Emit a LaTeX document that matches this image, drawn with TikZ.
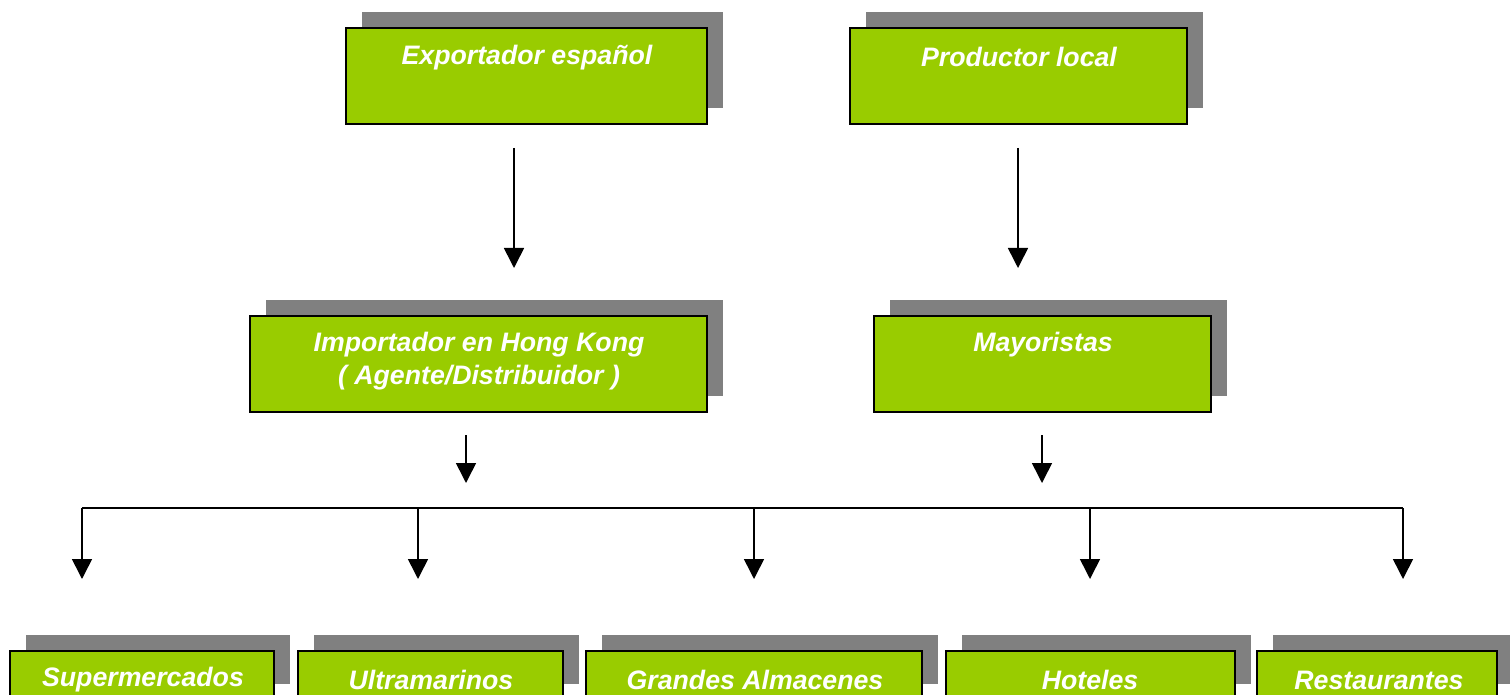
\documentclass[tikz,border=0pt]{standalone}
\usepackage{fontspec}
\setmainfont{Liberation Sans}
\usetikzlibrary{arrows.meta,shadows}
\definecolor{boxgreen}{HTML}{99CC00}
\definecolor{shadowgray}{HTML}{808080}
\tikzset{
  box/.style={draw=black, line width=1.5pt, fill=boxgreen, inner sep=0pt,
    general shadow={shadow xshift=16pt, shadow yshift=16pt, fill=shadowgray, opacity=1}},
  lbl/.style={text=white, font=\fontsize{26.7}{33}\selectfont\bfseries\itshape, align=center, inner sep=0pt},
  arr/.style={line width=1.6pt, -{Triangle[length=20pt,width=20pt]}},
  conn/.style={line width=1.6pt}
}
\begin{document}
\begin{tikzpicture}[x=1pt,y=-1pt]
\useasboundingbox (0,0) rectangle (1510,695);
\clip (0,0) rectangle (1510,695);
% top row
\node[box, minimum width=361pt, minimum height=96pt] (b1) at (526.5,76) {};
\node[lbl] (t1) at (527,58) {Exportador español};
\node[box, minimum width=337pt, minimum height=96pt] (b2) at (1018.5,76) {};
\node[lbl] (t2) at (1019,57) {Productor local};
% middle row
\node[box, minimum width=457pt, minimum height=96pt] (b3) at (478.5,364) {};
\node[lbl] (t3) at (479,361) {Importador en Hong Kong\\( Agente/Distribuidor )};
\node[box, minimum width=337pt, minimum height=96pt] (b4) at (1042.5,364) {};
\node[lbl] (t4) at (1043,345) {Mayoristas};
% bottom row
\node[box, minimum width=264pt, minimum height=49pt] (c1) at (142,675.5) {};
\node[lbl] (u1) at (143,680) {Supermercados};
\node[box, minimum width=265pt, minimum height=49pt] (c2) at (430.5,675.5) {};
\node[lbl] (u2) at (431,680) {Ultramarinos};
\node[box, minimum width=336pt, minimum height=49pt] (c3) at (754,675.5) {};
\node[lbl] (u3) at (755,680) {Grandes Almacenes};
\node[box, minimum width=289pt, minimum height=49pt] (c4) at (1090.5,675.5) {};
\node[lbl] (u4) at (1090,680) {Hoteles};
\node[box, minimum width=240pt, minimum height=49pt] (c5) at (1377,675.5) {};
\node[lbl] (u5) at (1379,680) {Restaurantes};
% arrow coordinates
\coordinate (a1s) at (514,148); \coordinate (a1e) at (514,268);
\coordinate (a2s) at (1018,148); \coordinate (a2e) at (1018,268);
\coordinate (a3s) at (466,435); \coordinate (a3e) at (466,483);
\coordinate (a4s) at (1042,435); \coordinate (a4e) at (1042,483);
\coordinate (hl) at (82,508); \coordinate (hr) at (1403,508);
\coordinate (d1) at (82,508); \coordinate (e1) at (82,579);
\coordinate (d2) at (418,508); \coordinate (e2) at (418,579);
\coordinate (d3) at (754,508); \coordinate (e3) at (754,579);
\coordinate (d4) at (1090,508); \coordinate (e4) at (1090,579);
\coordinate (d5) at (1403,508); \coordinate (e5) at (1403,579);
\draw[arr] (a1s) -- (a1e);
\draw[arr] (a2s) -- (a2e);
\draw[arr] (a3s) -- (a3e);
\draw[arr] (a4s) -- (a4e);
\draw[conn] (hl) -- (hr);
\draw[arr] (d1) -- (e1);
\draw[arr] (d2) -- (e2);
\draw[arr] (d3) -- (e3);
\draw[arr] (d4) -- (e4);
\draw[arr] (d5) -- (e5);
\end{tikzpicture}
\end{document}
